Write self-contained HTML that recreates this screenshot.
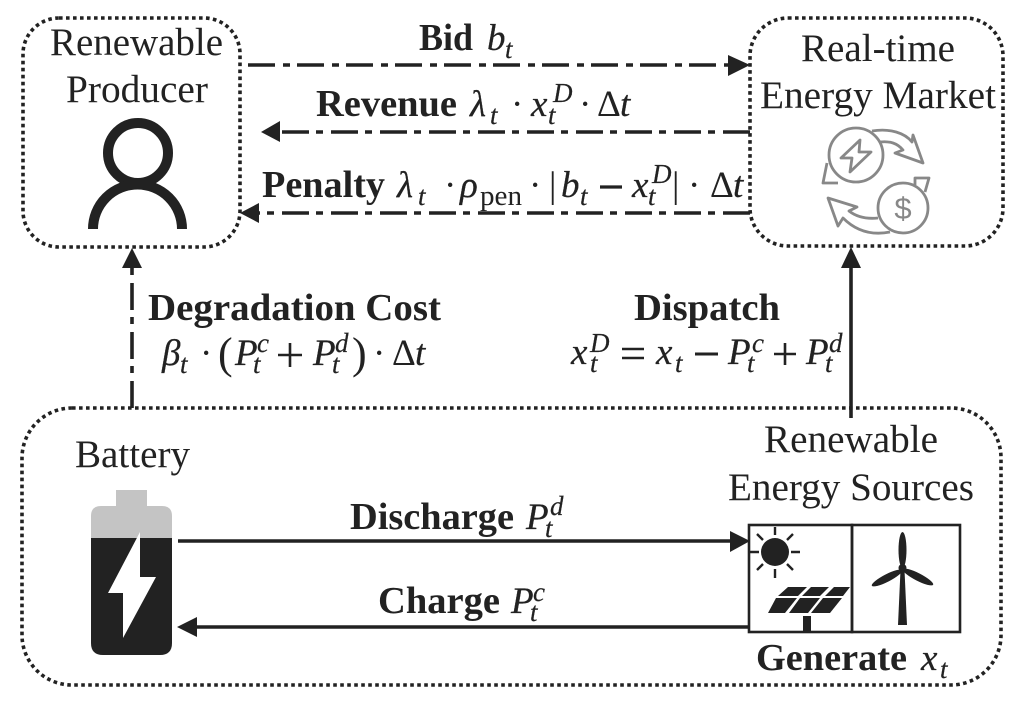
<!DOCTYPE html>
<html><head><meta charset="utf-8"><style>
html,body{margin:0;padding:0;background:#fff}
svg{display:block;filter:blur(.35px)}
text{font-family:"Liberation Serif",serif;fill:#222}
.n{font-size:39px}
.b{font-size:38.6px;font-weight:bold}
.m{font-size:37px;font-style:italic;stroke:#222;stroke-width:.25}
.s{font-size:27px;font-style:italic;stroke:#222;stroke-width:.2}
.r{font-size:37px}
.rs{font-size:28px}
.box{fill:none;stroke:#222;stroke-width:3.6;stroke-dasharray:3.6 3.4}
.dd{fill:none;stroke:#222;stroke-width:3.6;stroke-dasharray:27 8 7 7}
.sl{fill:none;stroke:#222;stroke-width:3.6}
.ic{fill:none;stroke:#888;stroke-width:2.8;stroke-linejoin:round}
</style></head><body>
<svg width="1023" height="704" viewBox="0 0 1023 704" xmlns="http://www.w3.org/2000/svg">
<rect x="23" y="18" width="217" height="229" rx="36" class="box"/>
<rect x="750" y="18" width="253" height="228" rx="38" class="box"/>
<rect x="22" y="408" width="979" height="277" rx="50" class="box"/>

<text class="n" x="50" y="55" textLength="173" lengthAdjust="spacingAndGlyphs">Renewable</text>
<text class="n" x="66" y="102" textLength="142" lengthAdjust="spacingAndGlyphs">Producer</text>
<text class="n" x="801" y="61" textLength="154" lengthAdjust="spacingAndGlyphs">Real-time</text>
<text class="n" x="760" y="108" textLength="236" lengthAdjust="spacingAndGlyphs">Energy Market</text>
<text class="n" x="75" y="467" textLength="115" lengthAdjust="spacingAndGlyphs">Battery</text>
<text class="n" x="764" y="452" textLength="174" lengthAdjust="spacingAndGlyphs">Renewable</text>
<text class="n" x="728" y="500" textLength="246" lengthAdjust="spacingAndGlyphs">Energy Sources</text>

<!-- connectors -->
<path class="dd" d="M248 65H730"/><path d="M750 65L728 55V76Z" fill="#222"/>
<path class="dd" d="M750 132H280"/><path d="M261 132L280 121V142Z" fill="#222"/>
<path class="dd" d="M750 213H258"/><path d="M240 213L259 203V223Z" fill="#222"/>
<path class="dd" d="M132 408V266"/><path d="M132 248L122 268H142Z" fill="#222"/>
<path class="sl" d="M851 418V266"/><path d="M851 247L841 268H861Z" fill="#222"/>
<path class="sl" d="M178 541H732"/><path d="M750 541L730 531V552Z" fill="#222"/>
<path class="sl" d="M748 627H195"/><path d="M177 627L197 617V637Z" fill="#222"/>

<!-- Bid -->
<text class="b" x="419" y="50" textLength="54" lengthAdjust="spacingAndGlyphs">Bid</text>
<text class="m" x="487" y="50">b</text><text class="s" x="505" y="58">t</text>

<!-- Revenue -->
<text class="b" x="316" y="116" textLength="141" lengthAdjust="spacingAndGlyphs">Revenue</text>
<text class="m" x="470" y="116">λ</text><text class="s" x="490" y="124">t</text>
<text class="r" x="511" y="116">·</text>
<text class="m" x="531" y="116">x</text><text class="s" x="553" y="102">D</text><text class="s" x="548" y="124">t</text>
<text class="r" x="579" y="116">·</text>
<text class="r" x="597" y="116">Δ</text><text class="m" x="620" y="116">t</text>

<!-- Penalty -->
<text class="b" x="262" y="197" textLength="123" lengthAdjust="spacingAndGlyphs">Penalty</text>
<text class="m" x="397" y="197">λ</text><text class="s" x="418" y="205">t</text>
<text class="r" x="444" y="197">·</text>
<text class="m" x="460" y="197">ρ</text><text class="rs" x="480" y="205" textLength="42" lengthAdjust="spacingAndGlyphs">pen</text>
<text class="r" x="529" y="197">·</text>
<text class="r" x="549" y="197">|</text>
<text class="m" x="561" y="197">b</text><text class="s" x="580" y="205">t</text>
<path d="M600 187H622" stroke="#222" stroke-width="3.2"/>
<text class="m" x="632" y="197">x</text><text class="s" x="652" y="183">D</text><text class="s" x="648" y="205">t</text>
<text class="r" x="672" y="197">|</text>
<text class="r" x="688" y="197">·</text>
<text class="r" x="710" y="197">Δ</text><text class="m" x="733" y="197">t</text>

<!-- Degradation -->
<text class="b" x="148" y="320" textLength="293" lengthAdjust="spacingAndGlyphs">Degradation Cost</text>
<text class="m" x="162" y="365">β</text><text class="s" x="180" y="373">t</text>
<text class="r" x="200" y="365">·</text>
<text x="218" y="368" style="font-size:44px">(</text>
<text class="m" x="235" y="365">P</text><text class="s" x="257" y="352">c</text><text class="s" x="253" y="373">t</text>
<path d="M278 355H302M290 343V367" stroke="#222" stroke-width="2.6" fill="none"/>
<text class="m" x="313" y="365">P</text><text class="s" x="335" y="352">d</text><text class="s" x="332" y="373">t</text>
<text x="352" y="368" style="font-size:44px">)</text>
<text class="r" x="373" y="365">·</text>
<text class="r" x="392" y="365">Δ</text><text class="m" x="415" y="365">t</text>

<!-- Dispatch -->
<text class="b" x="634" y="320" textLength="146" lengthAdjust="spacingAndGlyphs">Dispatch</text>
<text class="m" x="571" y="364">x</text><text class="s" x="590" y="352">D</text><text class="s" x="590" y="372">t</text>
<path d="M622 349H644M622 358H644" stroke="#222" stroke-width="2.6" fill="none"/>
<text class="m" x="656" y="364">x</text><text class="s" x="675" y="372">t</text>
<path d="M695 354H718" stroke="#222" stroke-width="3"/>
<text class="m" x="728" y="364">P</text><text class="s" x="752" y="352">c</text><text class="s" x="747" y="372">t</text>
<path d="M774 354H796M785 343V365" stroke="#222" stroke-width="2.6" fill="none"/>
<text class="m" x="806" y="364">P</text><text class="s" x="829" y="352">d</text><text class="s" x="825" y="372">t</text>

<!-- Discharge / Charge / Generate -->
<text class="b" x="350" y="529" textLength="164" lengthAdjust="spacingAndGlyphs">Discharge</text>
<text class="m" x="526" y="529">P</text><text class="s" x="550" y="515">d</text><text class="s" x="545" y="537">t</text>
<text class="b" x="378" y="613" textLength="122" lengthAdjust="spacingAndGlyphs">Charge</text>
<text class="m" x="511" y="613">P</text><text class="s" x="533" y="601">c</text><text class="s" x="530" y="621">t</text>
<text class="b" x="756" y="670" textLength="151" lengthAdjust="spacingAndGlyphs">Generate</text>
<text class="m" x="921" y="670">x</text><text class="s" x="940" y="678">t</text>

<!-- person -->
<circle cx="138" cy="153" r="30" fill="none" stroke="#222" stroke-width="10"/>
<path d="M93 229A44.500 44.500 0 0 1 182 229" fill="none" stroke="#222" stroke-width="10"/>

<!-- market icon -->
<circle class="ic" cx="856" cy="155" r="27"/>
<circle class="ic" cx="903" cy="208" r="25"/>
<path class="ic" d="M860 140L841 158H852L850 172L871 152H859Z"/>
<path class="ic" d="M827 163L823 183H838"/>
<path class="ic" d="M872 131C890 128 905 133 912 142L913 135L923 163L895 153L903 150C897 143 890 141 880 142"/>
<path class="ic" d="M915 185V178H929L925 192"/>
<path class="ic" d="M878 218C868 219 858 218 849 211L857 207L828 198L838 226L843 218C858 233 875 235 890 232"/>
<text x="903" y="219" style="font-family:'Liberation Sans',sans-serif;font-size:31px;fill:#888" text-anchor="middle">$</text>

<!-- battery -->
<path d="M116 506V490H147V506H162Q172 506 172 516V538H91V516Q91 506 101 506Z" fill="#c4c4c4"/>
<path d="M91 538H172V643Q172 655 160 655H103Q91 655 91 643Z" fill="#222"/>
<path d="M140 532L108 593H123V638L156 577H140Z" fill="#fff"/>

<!-- source boxes -->
<rect x="749" y="525" width="103" height="107" fill="none" stroke="#222" stroke-width="2.6"/>
<rect x="852" y="525" width="108" height="107" fill="none" stroke="#222" stroke-width="2.6"/>
<circle cx="775" cy="552" r="14" fill="#222"/>
<g stroke="#222" stroke-width="2.4">
<path d="M775 527V535M775 569V578M750 552H759M791 552H800M757 534L763 540M793 534L787 540M757 570L763 564M793 570L787 564"/>
</g>
<g fill="#222">
<path d="M788 587H807L798 596H778Z"/>
<path d="M811 587H829L820 596H802Z"/>
<path d="M834 587H850L843 596H825Z"/>
<path d="M776 598H797L785 613H768Z"/>
<path d="M800 598H820L808 613H789Z"/>
<path d="M823 598H842L830 613H811Z"/>
<rect x="803" y="616" width="8" height="15"/>
<path d="M900.500 570H904.500L907 625H898Z"/>
<ellipse cx="902.500" cy="550" rx="4" ry="18"/>
<ellipse cx="887" cy="578" rx="17" ry="3.800" transform="rotate(-27 887 578)"/>
<ellipse cx="918" cy="577" rx="17" ry="3.800" transform="rotate(27 918 577)"/>
<circle cx="902.500" cy="568" r="4"/>
</g>
</svg>
</body></html>
